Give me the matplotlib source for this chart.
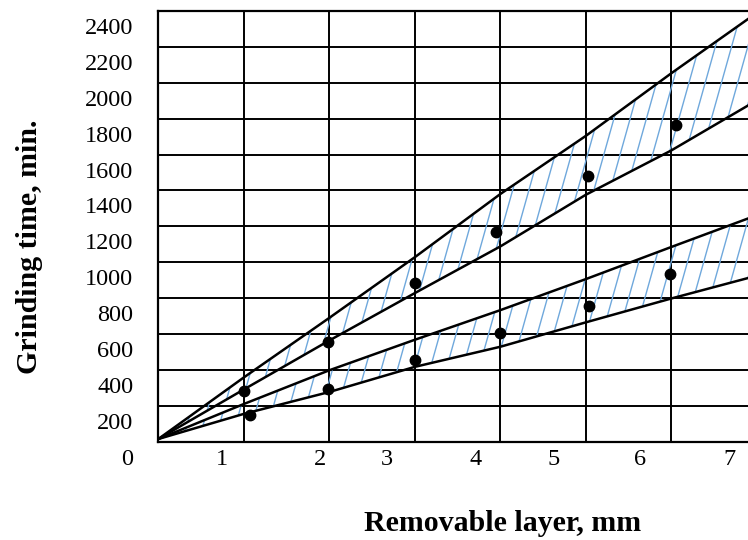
import matplotlib
matplotlib.use("Agg")
import matplotlib.pyplot as plt
from matplotlib.collections import LineCollection
from matplotlib.transforms import ScaledTranslation
import numpy as np

plt.rcParams['font.family'] = ['Liberation Serif', 'DejaVu Serif']

# band boundary lines, read at the vertical grid lines (grid units on x)
x_line = [0, 1, 2, 3, 4, 5, 6, 7]
upper_hi = [15, 358, 690, 1028, 1380, 1704, 2053, 2390]
upper_lo = [15, 291, 564, 828, 1088, 1376, 1623, 1902]
lower_hi = [15, 210, 398, 568, 733, 906, 1085, 1262]
lower_lo = [15, 155, 277, 417, 529, 665, 798, 925]

# measured points
pts_upper_x = [1.0, 1.99, 3.0, 3.95, 5.03, 6.06]
pts_upper_y = [284, 557, 882, 1167, 1482, 1763]
pts_lower_x = [1.07, 1.99, 3.0, 4.0, 5.04, 5.99]
pts_lower_y = [149, 293, 455, 604, 757, 934]

# tick labels (x labels sit off the grid lines in the original)
xtick_pos = [0.74, 1.89, 2.67, 3.71, 4.62, 5.64, 6.68]
xtick_lab = ['1', '2', '3', '4', '5', '6', '7']
ytick_val = list(range(0, 2600, 200))

hatch_color = '#6fa8dc'
hatch_slope = 1700
hatch_step = 0.19

fig = plt.figure(figsize=(7.48, 5.40), dpi=100)
ax = fig.add_axes([158.3 / 748, 1 - 441.7 / 540, 598.5 / 748, 430.7 / 540])


def hatch_band(lo, hi):
    band = ax.fill_between(x_line, lo, hi, facecolor='none', edgecolor='none')
    path = band.get_paths()[0]
    segs = []
    for x0 in np.arange(-2, 8, hatch_step):
        segs.append([(x0, 0), (x0 + 2500 / hatch_slope, 2500)])
    lc = LineCollection(segs, colors=hatch_color, linewidths=1.0)
    lc.set_clip_path(path, ax.transData)
    ax.add_collection(lc)


hatch_band(upper_lo, upper_hi)
hatch_band(lower_lo, lower_hi)

for ys in (upper_hi, upper_lo, lower_hi, lower_lo):
    ax.plot(x_line, ys, color='black', lw=1.8, zorder=3)

ax.plot(pts_upper_x, pts_upper_y, 'o', color='black', ms=7.5, zorder=4)
ax.plot(pts_lower_x, pts_lower_y, 'o', color='black', ms=7.5, zorder=4)

ax.set_xlim(0, 7)
ax.set_ylim(0, 2400)

ax.set_xticks(x_line, minor=True)
ax.set_xticks(xtick_pos)
ax.set_xticklabels(xtick_lab)
ax.set_yticks(ytick_val)
ax.grid(which='minor', axis='x', color='black', lw=1.4)
ax.grid(which='major', axis='y', color='black', lw=1.4)
ax.set_axisbelow(True)
ax.tick_params(which='both', length=0)
ax.tick_params(axis='x', labelsize=17.5, pad=5)
ax.tick_params(axis='y', labelsize=17.5, pad=18)
for sp in ax.spines.values():
    sp.set_linewidth(1.6)
ax.spines['right'].set_visible(False)

# y labels sit half a cell below their grid lines
for lab in ax.get_yticklabels():
    lab.set_transform(lab.get_transform() + ScaledTranslation(0, -0.15, fig.dpi_scale_trans))

ax.set_xlabel('Removable layer, mm', fontsize=21.5, fontweight='bold')
ax.xaxis.set_label_coords(0.576, -0.189)
ax.xaxis.label.set_va('center')
ax.set_ylabel('Grinding time, min.', fontsize=21.5, fontweight='bold')
ax.yaxis.set_label_coords(-0.216, 0.452)
ax.yaxis.label.set_va('center')
ax.yaxis.label.set_ha('center')

fig.savefig('out.png', dpi=100)
